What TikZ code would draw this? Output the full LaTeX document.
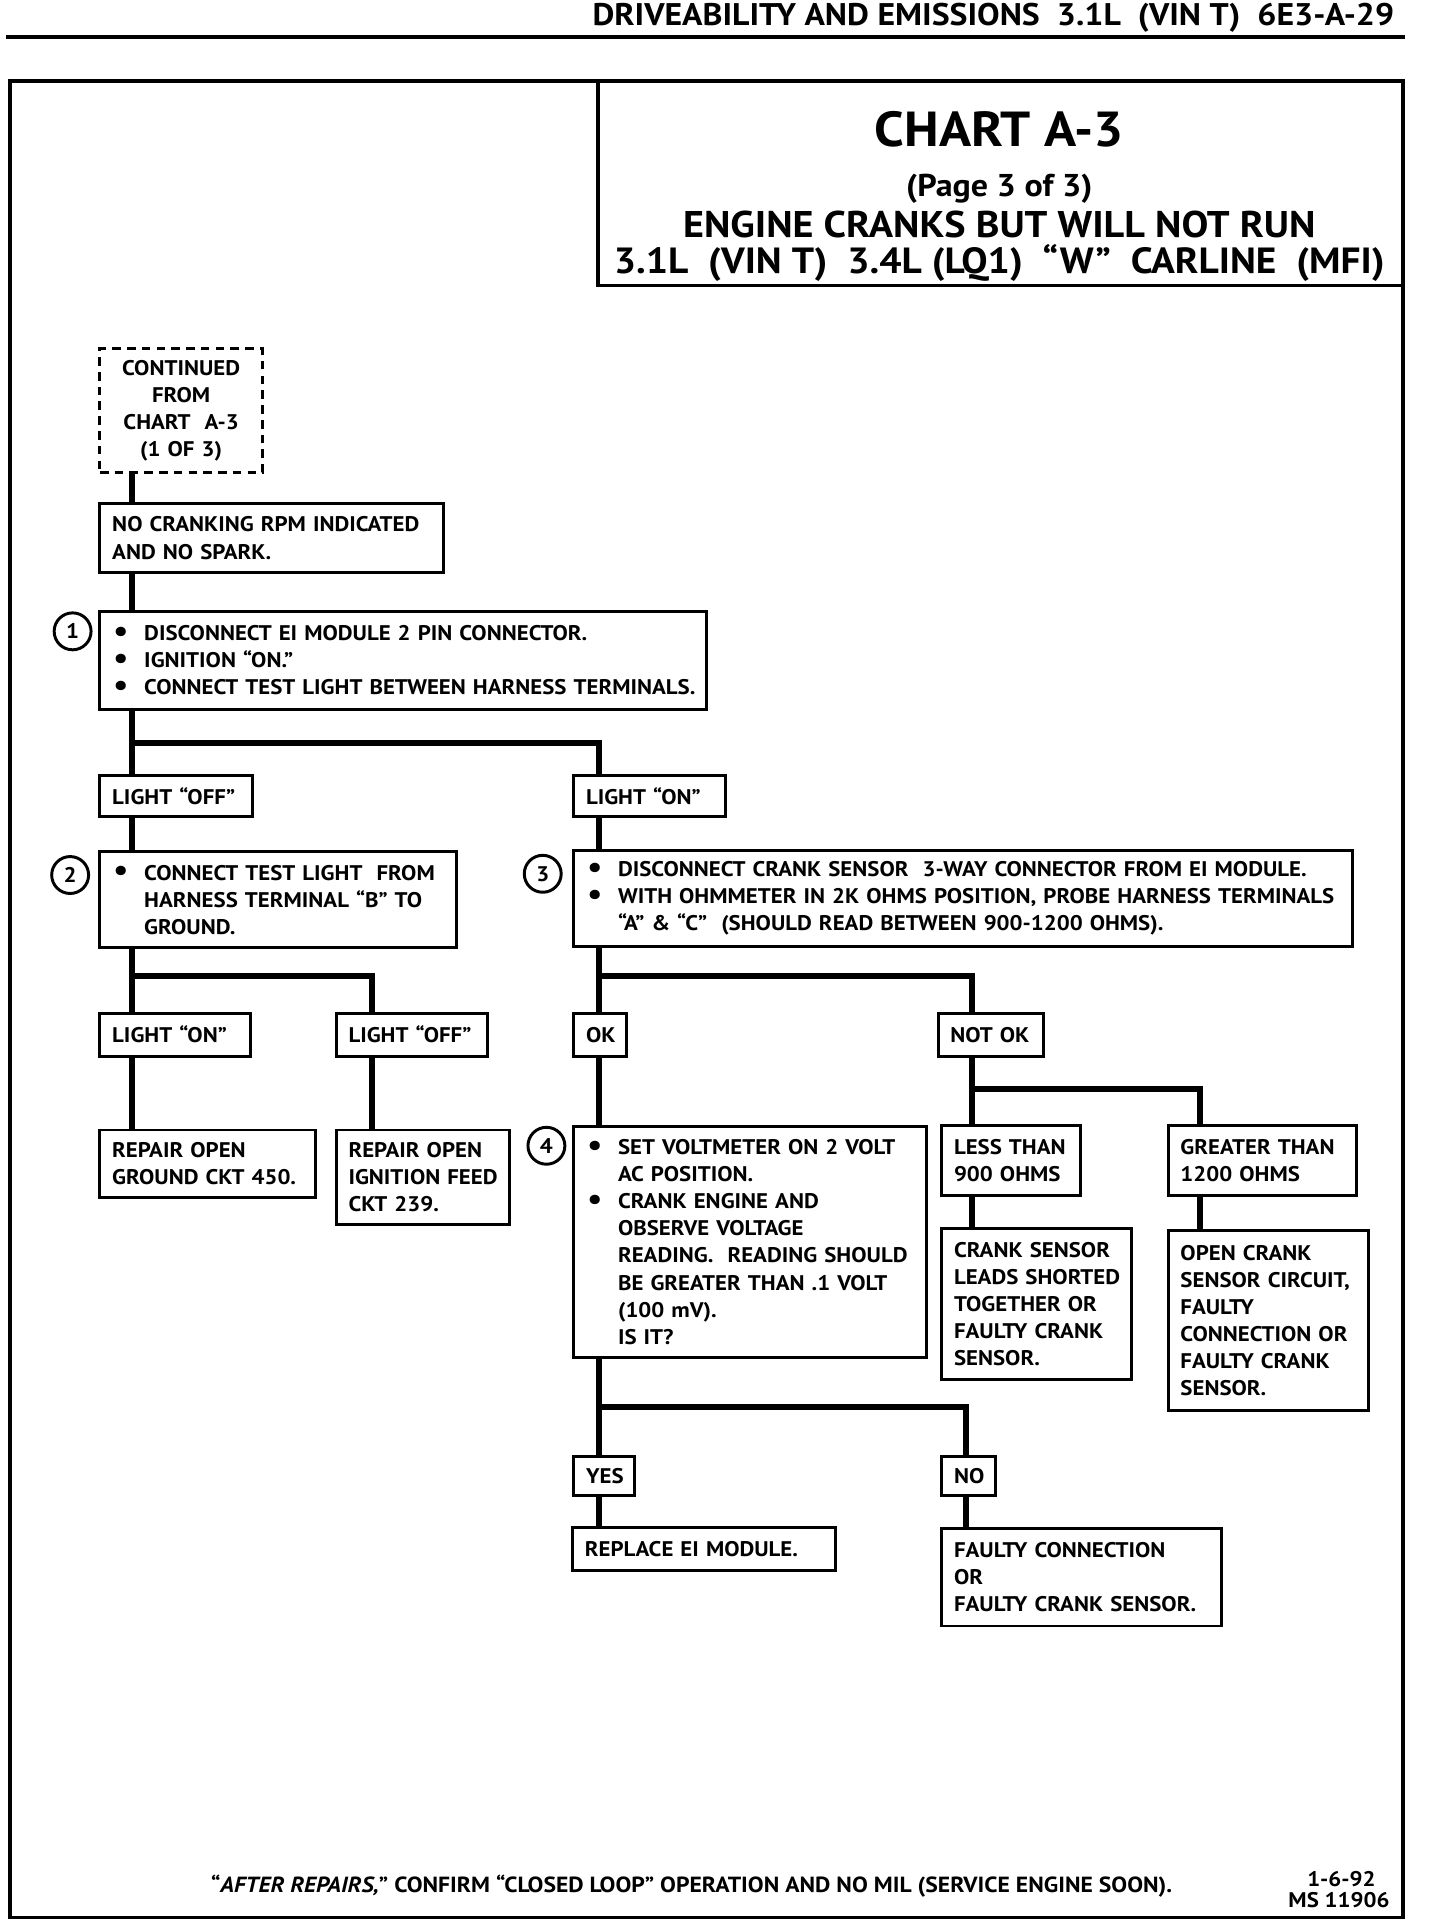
\documentclass[tikz,border=0pt]{standalone}
\usepackage{fontspec}
\setmainfont{PT Sans}[FakeStretch=1.08]
\usetikzlibrary{calc}
\newcommand{\bltm}{\makebox[13pt][l]{\hspace{0.5pt}\raisebox{-0.3pt}{\scalebox{1.45}{\textbullet}}}}
\newcommand{\indt}{\hspace*{13pt}}
\begin{document}
\begin{tikzpicture}[x=0.5pt,y=-0.5pt,
  txt/.style={font=\bfseries\fontsize{8.6}{11}\selectfont},
  box/.style={draw, line width=1.2pt, inner xsep=0pt, inner ysep=0pt, align=left,
    anchor=north west, txt, execute at begin node={\leftskip=5pt\relax}},
  cbox/.style={draw, line width=1.2pt, inner xsep=0pt, inner ysep=0pt, align=center,
    anchor=north west, txt},
  conn/.style={line width=2.5pt},
  num/.style={circle, draw, line width=1.2pt, minimum size=15pt, inner sep=0pt,
    font=\bfseries\fontsize{8.6}{10}\selectfont},
  frm/.style={line width=1.5pt}
]
\useasboundingbox (0,0) rectangle (1170,1565);

% header
\node[anchor=base east, font=\bfseries\fontsize{12.7}{14}\selectfont] (hdr) at (1140,21)
  {DRIVEABILITY AND EMISSIONS\ \ 3.1L\ \ (VIN T)\ \ 6E3-A-29};
\draw[frm] (5,30) -- (1142,30);

% frame and title box
\draw[frm] (8,66) rectangle (1140,1558);
\draw[frm] (486,66) -- (486,232) -- (1140,232);
\node[anchor=base, font=\bfseries\fontsize{20}{22}\selectfont] (t1) at (812,119) {CHART A-3};
\node[anchor=base, font=\bfseries\fontsize{12.8}{14}\selectfont] (t2) at (812,160) {(Page 3 of 3)};
\node[anchor=base, font=\bfseries\fontsize{15.1}{17}\selectfont] (t3) at (812,193) {ENGINE CRANKS BUT WILL NOT RUN};
\node[anchor=base, font=\bfseries\fontsize{14.8}{17}\selectfont] (t4) at (812,222)
  {3.1L\ \ (VIN T)\ \ 3.4L (LQ1)\ \ “W”\ \ CARLINE\ \ (MFI)};

% boxes
\node[cbox, dashed, dash pattern=on 3.5pt off 2.5pt, text width=66pt, minimum height=50.5pt] (cont) at (80,282)
  {CONTINUED\\FROM\\CHART\ \ A-3\\(1 OF 3)};
\node[box, text width=139.5pt, minimum height=28pt] (nocrank) at (80,408)
  {NO CRANKING RPM INDICATED\\AND NO SPARK.};
\node[box, text width=246.5pt, minimum height=39.5pt] (step1) at (80,496)
  {\bltm DISCONNECT EI MODULE 2 PIN CONNECTOR.\\\bltm IGNITION “ON.”\\\bltm CONNECT TEST LIGHT BETWEEN HARNESS TERMINALS.};
\node[box, text width=62pt, minimum height=16.5pt] (loff1) at (80,629) {LIGHT “OFF”};
\node[box, text width=61.5pt, minimum height=16.5pt] (lon1) at (465,629) {LIGHT “ON”};
\node[box, text width=145pt, minimum height=39pt] (step2) at (80,691)
  {\bltm CONNECT TEST LIGHT\ \ FROM\\\indt HARNESS TERMINAL “B” TO\\\indt GROUND.};
\node[box, text width=316.5pt, minimum height=39pt] (step3) at (465,690)
  {\bltm DISCONNECT CRANK SENSOR\ \ 3-WAY CONNECTOR FROM EI MODULE.\\\bltm WITH OHMMETER IN 2K OHMS POSITION, PROBE HARNESS TERMINALS\\\indt “A” \& “C”\ \ (SHOULD READ BETWEEN 900-1200 OHMS).};
\node[box, text width=61pt, minimum height=17.5pt] (lon2) at (80,822) {LIGHT “ON”};
\node[box, text width=61.5pt, minimum height=17.5pt] (loff2) at (272,822) {LIGHT “OFF”};
\node[box, text width=21.5pt, minimum height=17.5pt] (ok) at (465,822) {OK};
\node[box, text width=43pt, minimum height=17.5pt] (notok) at (761,822) {NOT OK};
\node[box, text width=87.5pt, minimum height=27.5pt] (rep450) at (80,917)
  {REPAIR OPEN\\GROUND CKT 450.};
\node[box, text width=70.5pt, minimum height=38.5pt] (rep239) at (272,917)
  {REPAIR OPEN\\IGNITION FEED\\CKT 239.};
\node[box, text width=143.5pt, minimum height=94pt] (step4) at (465,914)
  {\bltm SET VOLTMETER ON 2 VOLT\\\indt AC POSITION.\\\bltm CRANK ENGINE AND\\\indt OBSERVE VOLTAGE\\\indt READING.\ \ READING SHOULD\\\indt BE GREATER THAN .1 VOLT\\\indt (100 mV).\\\indt IS IT?};
\node[box, text width=56.5pt, minimum height=28.5pt] (less) at (764,913)
  {LESS THAN\\900 OHMS};
\node[box, text width=76.5pt, minimum height=28.5pt] (greater) at (948,913)
  {GREATER THAN\\1200 OHMS};
\node[box, text width=77pt, minimum height=61.5pt] (shorted) at (764,997)
  {CRANK SENSOR\\LEADS SHORTED\\TOGETHER OR\\FAULTY CRANK\\SENSOR.};
\node[box, text width=81.5pt, minimum height=73pt] (opencrk) at (948,999)
  {OPEN CRANK\\SENSOR CIRCUIT,\\FAULTY\\CONNECTION OR\\FAULTY CRANK\\SENSOR.};
\node[box, text width=24.5pt, minimum height=16pt] (yes) at (465,1182) {YES};
\node[box, text width=22pt, minimum height=16pt] (no) at (764,1182) {NO};
\node[box, text width=107pt, minimum height=17.5pt] (replace) at (464,1240)
  {REPLACE EI MODULE.};
\node[box, text width=113.5pt, minimum height=39.5pt] (faulty) at (764,1241)
  {FAULTY CONNECTION\\OR\\FAULTY CRANK SENSOR.};

% step numbers
\node[num] (n1) at (59,513) {1};
\node[num] (n2) at (57,711) {2};
\node[num] (n3) at (441,710) {3};
\node[num] (n4) at (444,931) {4};

% connector columns and junctions
\coordinate (A) at (107,0);
\coordinate (B) at (487,0);
\coordinate (C) at (302,0);
\coordinate (D) at (790,0);
\coordinate (E) at (975,0);
\coordinate (F) at (785,0);
\coordinate (j1) at (107,604);
\coordinate (j2) at (107,793);
\coordinate (j3) at (487,793);
\coordinate (j4) at (790,885);
\coordinate (j5) at (487,1143);

\draw[conn] (cont.south -| A) -- (nocrank.north -| A);
\draw[conn] (nocrank.south -| A) -- (step1.north -| A);
\draw[conn] (step1.south -| A) -- (loff1.north -| A);
\draw[conn] (j1) -| (lon1.north -| B);
\draw[conn] (loff1.south -| A) -- (step2.north -| A);
\draw[conn] (lon1.south -| B) -- (step3.north -| B);
\draw[conn] (step2.south -| A) -- (lon2.north -| A);
\draw[conn] (j2) -| (loff2.north -| C);
\draw[conn] (lon2.south -| A) -- (rep450.north -| A);
\draw[conn] (loff2.south -| C) -- (rep239.north -| C);
\draw[conn] (step3.south -| B) -- (ok.north -| B);
\draw[conn] (j3) -| (notok.north -| D);
\draw[conn] (ok.south -| B) -- (step4.north -| B);
\draw[conn] (notok.south -| D) -- (less.north -| D);
\draw[conn] (j4) -| (greater.north -| E);
\draw[conn] (less.south -| D) -- (shorted.north -| D);
\draw[conn] (greater.south -| E) -- (opencrk.north -| E);
\draw[conn] (step4.south -| B) -- (yes.north -| B);
\draw[conn] (j5) -| (no.north -| F);
\draw[conn] (yes.south -| B) -- (replace.north -| B);
\draw[conn] (no.south -| F) -- (faulty.north -| F);

% footer
\node[anchor=base, font=\bfseries\fontsize{8.9}{11}\selectfont] (foot) at (562,1538)
  {“\textit{AFTER REPAIRS,}” CONFIRM “CLOSED LOOP” OPERATION AND NO MIL (SERVICE ENGINE SOON).};
\node[anchor=base, txt] (date) at (1090,1533) {1-6-92};
\node[anchor=base, txt] (ms) at (1088,1550) {MS 11906};
\end{tikzpicture}
\end{document}
